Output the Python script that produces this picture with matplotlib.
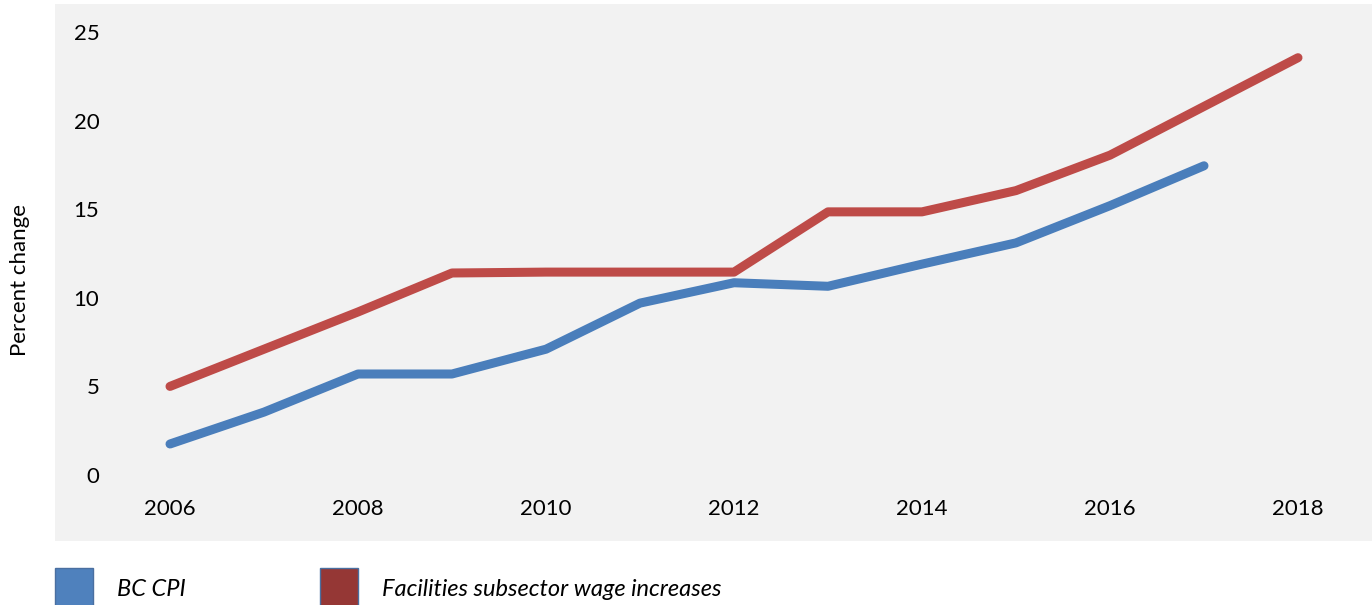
import matplotlib
matplotlib.use("Agg")
import matplotlib.pyplot as plt
from matplotlib.patches import Rectangle

years = list(range(2006, 2019))
bc_cpi = [1.75, 3.55, 5.7, 5.7, 7.1, 9.7, 10.85, 10.65, 11.9, 13.1, 15.2, 17.45]
wage = [5.0, 7.1, 9.2, 11.4, 11.45, 11.45, 11.45, 14.85, 14.85, 16.05, 18.05, 20.8, 23.55]
labels = ["BC CPI", "Facilities subsector wage increases"]
xticks = [2006, 2008, 2010, 2012, 2014, 2016, 2018]
yticks = [0, 5, 10, 15, 20, 25]

plt.rcParams['font.family'] = ['Lato', 'DejaVu Sans']

W, H = 1372, 605
fig = plt.figure(figsize=(W/100, H/100), dpi=100)

# gray chart panel
fig.patches.append(Rectangle((55/W, (H-541)/H), (1372-55)/W, 537/H,
                             transform=fig.transFigure, facecolor='#f2f2f2',
                             edgecolor='none', zorder=0))

ax = fig.add_axes([123/W, (H-475)/H, 1222/W, 443/H])
ax.set_zorder(3)
ax.set_facecolor('none')
ax.plot(years[:len(bc_cpi)], bc_cpi, color='#4a7ebb', lw=6.5, solid_capstyle='round', solid_joinstyle='round')
ax.plot(years, wage, color='#be4b48', lw=6.5, solid_capstyle='round', solid_joinstyle='round')
ax.set_xlim(2005.5, 2018.5)
ax.set_ylim(0, 25)
ax.set_xticks(xticks)
ax.set_yticks(yticks)
ax.tick_params(length=0, labelsize=16)
ax.tick_params(axis='y', pad=17)
ax.tick_params(axis='x', pad=17)
for s in ax.spines.values():
    s.set_visible(False)

fig.text(20/W, 1-280/H, "Percent change", rotation=90, ha='center', va='center', fontsize=16)

# legend
colors = ['#4f81bd', '#953735']
lx = [55, 320]
for x0, c, lab in zip(lx, colors, labels):
    fig.patches.append(Rectangle((x0/W, (H-606)/H), 38/W, 38/H, transform=fig.transFigure,
                                 facecolor=c, edgecolor='#4a6fa0', lw=1))
    fig.text((x0+62)/W, 1-590/H, lab, ha='left', va='center', fontsize=17, style='italic')

fig.savefig("out.png", dpi=100)
